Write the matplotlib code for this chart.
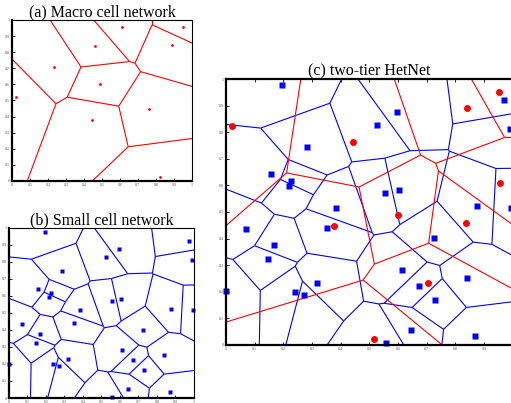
import numpy as np
from matplotlib import pyplot as plt
from matplotlib.tri import Triangulation
from matplotlib.collections import LineCollection

# macro base stations, panel (a)
macro_a_x = [0.022, 0.233, 0.459, 0.609, 0.489, 0.446, 0.763, 0.891, 0.948, 0.824]
macro_a_y = [0.519, 0.705, 0.838, 0.954, 0.600, 0.378, 0.444, 0.842, 0.954, 0.023]

# small cells, panels (b) and (c)
small_x = [0.194, 0.595, 0.525, 0.284, 0.156, 0.228, 0.218, 0.556, 0.604, 0.383,
           0.068, 0.353, 0.169, 0.146, 0.727, 0.874, 0.971, 0.991, 0.995, 0.613,
           0.673, 0.840, 0.730, 0.000, 0.239, 0.272, 0.317, 0.646, 0.559, 0.869]
small_y = [0.978, 0.876, 0.829, 0.746, 0.642, 0.616, 0.596, 0.573, 0.583, 0.516,
           0.435, 0.439, 0.376, 0.321, 0.402, 0.522, 0.921, 0.813, 0.516, 0.280,
           0.222, 0.252, 0.167, 0.201, 0.197, 0.189, 0.232, 0.055, 0.006, 0.033]

# macro base stations, panel (c)
macro_c_x = [0.021, 0.443, 0.953, 0.841, 0.599, 0.837, 0.705, 0.517, 0.956, 0.376]
macro_c_y = [0.824, 0.765, 0.952, 0.893, 0.487, 0.457, 0.232, 0.020, 0.609, 0.446]

ticks = np.round(np.arange(0, 1.01, 0.1), 1)
tick_labels = ["0"] + ["%.1f" % t for t in ticks[1:-1]] + ["1"]


def voronoi_edges(xs, ys):
    # delaunay from matplotlib + far away helper points, edges = circumcenter links
    ang = np.linspace(0, 2 * np.pi, 13)[:-1] + 0.1
    far = np.column_stack([30 * np.cos(ang) + 0.5, 31 * np.sin(ang) + 0.5])
    p = np.vstack([np.column_stack([xs, ys]), far])
    tri = Triangulation(p[:, 0], p[:, 1])
    a, b, c = p[tri.triangles[:, 0]], p[tri.triangles[:, 1]], p[tri.triangles[:, 2]]
    d = 2 * (a[:, 0] * (b[:, 1] - c[:, 1]) + b[:, 0] * (c[:, 1] - a[:, 1]) + c[:, 0] * (a[:, 1] - b[:, 1]))
    a2, b2, c2 = (a ** 2).sum(1), (b ** 2).sum(1), (c ** 2).sum(1)
    ux = (a2 * (b[:, 1] - c[:, 1]) + b2 * (c[:, 1] - a[:, 1]) + c2 * (a[:, 1] - b[:, 1])) / d
    uy = (a2 * (c[:, 0] - b[:, 0]) + b2 * (a[:, 0] - c[:, 0]) + c2 * (b[:, 0] - a[:, 0])) / d
    cc = np.column_stack([ux, uy])
    segs = []
    for i, nb in enumerate(tri.neighbors):
        for j in nb:
            if j > i:
                segs.append([cc[i], cc[j]])
    return segs


def style(ax, top_ticks=False, xlabels=tick_labels):
    ax.set_xlim(0, 1)
    ax.set_ylim(0, 1)
    ax.set_xticks(ticks)
    ax.set_yticks(ticks)
    ax.set_xticklabels(xlabels)
    ax.set_yticklabels(tick_labels)
    ax.tick_params(direction="in", length=2, width=0.6, labelsize=3, labelcolor="#555555",
                   pad=1.5, top=top_ticks, right=False)
    for s in ["left", "bottom"]:
        ax.spines[s].set_linewidth(1.6)
    ax.spines["top"].set_linewidth(1.6 if top_ticks else 0.8)
    ax.spines["right"].set_linewidth(0.8)


plt.rcParams['font.family'] = ['Liberation Serif', 'DejaVu Serif']
fig = plt.figure(figsize=(5.11, 4.03), dpi=100)

# (a)
ax1 = fig.add_axes([0.0235, 0.551, 0.352, 0.3995])
ax1.add_collection(LineCollection(voronoi_edges(macro_a_x, macro_a_y), colors="red", linewidths=0.8))
ax1.plot(macro_a_x, macro_a_y, "o", color="red", ms=2, mec="none")
style(ax1)
ax1.set_title("(a) Macro cell network", fontsize=11.5, pad=2)

# (b)
ax2 = fig.add_axes([0.0176, 0.0124, 0.362, 0.422])
ax2.add_collection(LineCollection(voronoi_edges(small_x, small_y), colors="blue", linewidths=0.8))
ax2.plot(small_x, small_y, "s", color="blue", ms=3.2, mec="none", clip_on=False)
style(ax2)
ax2.set_title("(b) Small cell network", fontsize=11.5, pad=2)

# (c)
ax3 = fig.add_axes([0.4423, 0.1447, 0.561, 0.6586])
ax3.add_collection(LineCollection(voronoi_edges(small_x, small_y), colors="blue", linewidths=0.8))
ax3.add_collection(LineCollection(voronoi_edges(macro_c_x, macro_c_y), colors="red", linewidths=0.8))
ax3.plot(small_x, small_y, "s", color="blue", ms=4, mec="none", clip_on=False)
ax3.plot(macro_c_x, macro_c_y, "o", color="red", ms=5, mec="none", clip_on=False)
style(ax3, top_ticks=True, xlabels=tick_labels[:-1] + [""])
ax3.set_title("(c) two-tier HetNet", fontsize=11.5, pad=3)

fig.savefig("out.png", dpi=100)
